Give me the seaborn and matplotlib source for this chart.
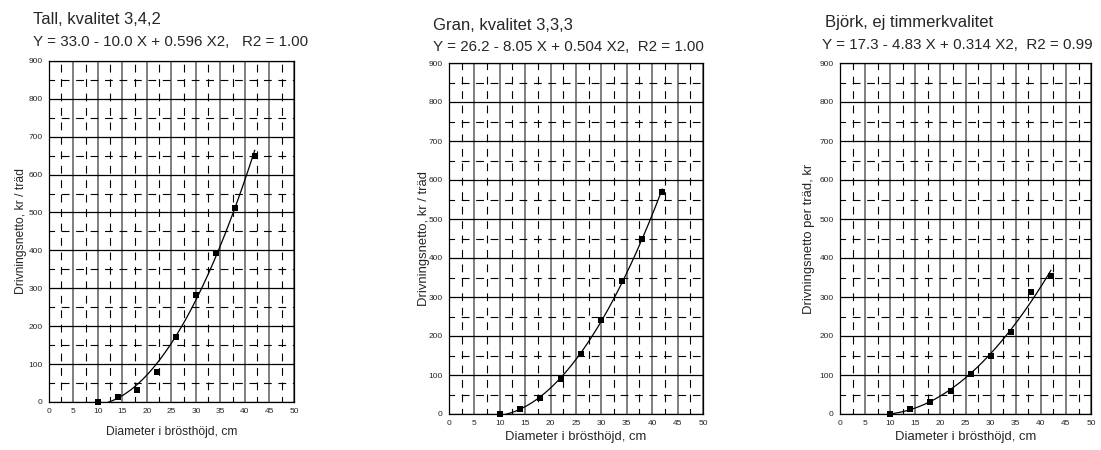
import numpy as np
import pandas as pd
import matplotlib
matplotlib.use("Agg")
import matplotlib.pyplot as plt
import seaborn as sns

sns.set_style("white")
plt.rcParams['font.family'] = ['Liberation Sans', 'DejaVu Sans']

diam = [10, 14, 18, 22, 26, 30, 34, 38, 42]
tall_vals = [0, 12, 32, 80, 172, 282, 393, 513, 650]
gran_vals = [0, 12, 40, 90, 155, 240, 340, 450, 570]
bjork_vals = [0, 12, 30, 60, 102, 150, 210, 312, 355]

tall_coef = [33.0, -10.0, 0.596]
gran_coef = [26.2, -8.05, 0.504]
bjork_coef = [17.3, -4.83, 0.314]

titles = ["Tall, kvalitet 3,4,2", "Gran, kvalitet 3,3,3", "Björk, ej timmerkvalitet"]
equations = ["Y = 33.0 - 10.0 X + 0.596 X2,   R2 = 1.00",
             "Y = 26.2 - 8.05 X + 0.504 X2,  R2 = 1.00",
             "Y = 17.3 - 4.83 X + 0.314 X2,  R2 = 0.99"]
ylabels = ["Drivningsnetto, kr / träd", "Drivningsnetto, kr / träd", "Drivningsnetto per träd, kr"]
xlabel = "Diameter i brösthöjd, cm"
xticks = [0, 5, 10, 15, 20, 25, 30, 35, 40, 45, 50]
yticks = [0, 100, 200, 300, 400, 500, 600, 700, 800, 900]

fig = plt.figure(figsize=(11.01, 4.5), dpi=100)
positions = [
    [0.0445, 0.1067, 0.2225, 0.758],
    [0.4078, 0.080, 0.2307, 0.780],
    [0.7630, 0.080, 0.2280, 0.780],
]
title_xy = [(33, 20), (433, 25), (825, 23)]
eq_xy = [(33, 42), (433, 47), (822, 45)]
lab_fs = [8.7, 9.4, 9.4]
ylab_x = [-0.09, -0.075, -0.10]
xpads = [8, 3, 3]

series = [(tall_vals, tall_coef), (gran_vals, gran_coef), (bjork_vals, bjork_coef)]

for i, (vals, coef) in enumerate(series):
    ax = fig.add_axes(positions[i])
    ax.set_xlim(0, 50)
    ax.set_ylim(0, 900)
    ax.set_xticks(xticks)
    ax.set_yticks(yticks)
    ax.set_xticks(np.arange(2.5, 50, 5), minor=True)
    ax.set_yticks(np.arange(50, 900, 100), minor=True)
    ax.tick_params(axis='both', which='major', labelsize=6, length=3, width=0.7,
                   color='black', pad=1.5, direction='out')
    ax.tick_params(axis='both', which='minor', length=0)
    ax.grid(False)
    ax.xaxis.grid(True, which='major', color='#7f7f7f', linewidth=1.4)
    ax.yaxis.grid(True, which='major', color='black', linewidth=0.9)
    ax.xaxis.grid(True, which='minor', color='black', linewidth=0.8, linestyle=(2, (7, 6)))
    ax.yaxis.grid(True, which='minor', color='black', linewidth=0.8, linestyle=(2, (7, 6)))
    ax.set_axisbelow(True)
    for s in ax.spines.values():
        s.set_color('black')
        s.set_linewidth(0.9)

    xs = np.linspace(diam[0], diam[-1], 200)
    ys = coef[0] + coef[1] * xs + coef[2] * xs ** 2
    sns.lineplot(x=xs, y=ys, ax=ax, color='black', linewidth=0.9, clip_on=True)
    sns.scatterplot(x=diam, y=vals, ax=ax, marker='s', s=24, color='black',
                    edgecolor='black', linewidth=0, zorder=5, clip_on=False)

    ax.set_xlabel(xlabel, fontsize=lab_fs[i], labelpad=xpads[i])
    ax.set_ylabel(ylabels[i], fontsize=lab_fs[i])
    ax.yaxis.set_label_coords(ylab_x[i], 0.5)

    fig.text(title_xy[i][0] / 1101, 1 - title_xy[i][1] / 450, titles[i],
             fontsize=12, ha='left', va='center')
    fig.text(eq_xy[i][0] / 1101, 1 - eq_xy[i][1] / 450, equations[i],
             fontsize=10.9, ha='left', va='center')

fig.savefig("out.png", dpi=100)
